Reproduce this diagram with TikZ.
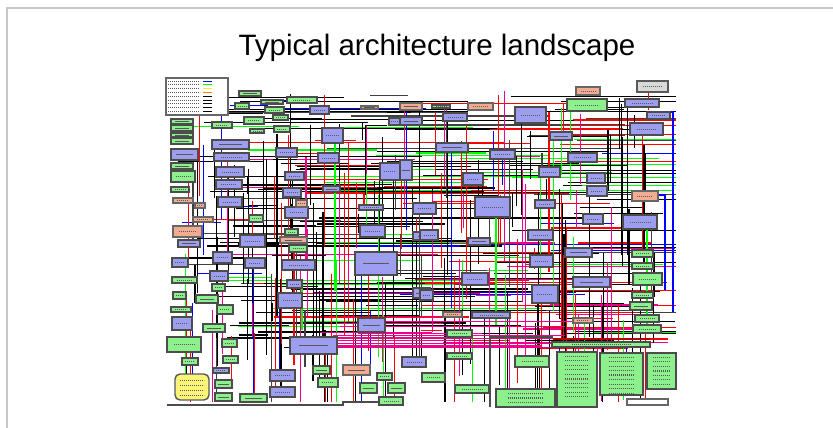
\documentclass[tikz,border=0pt]{standalone}
\usepackage{fontspec}
\setmainfont{Liberation Sans}
\usetikzlibrary{patterns,positioning}

\definecolor{boxblue}{RGB}{158,158,240}
\definecolor{boxgreen}{RGB}{140,240,140}
\definecolor{boxsalmon}{RGB}{242,172,145}
\definecolor{boxyellow}{RGB}{250,244,120}
\definecolor{framegray}{RGB}{200,200,200}

\begin{document}
\begin{tikzpicture}[x=1pt,y=-1pt]
    \tikzset{wire/.style = {line width=1.1pt}}
    \tikzset{bx_blue/.style = {draw=black!70,line width=1.4pt,fill=boxblue}}
    \tikzset{bx_green/.style = {draw=black!70,line width=1.4pt,fill=boxgreen}}
    \tikzset{bx_salmon/.style = {draw=black!60,line width=1.4pt,fill=boxsalmon}}
    \tikzset{scrib/.style = {black!65,line width=0.8pt,dash pattern=on 1.2pt off 0.8pt}}

    \useasboundingbox (0,0) rectangle (833,428);
    % slide frame
    \draw[framegray,line width=2.5pt] (7,428) -- (7,8) -- (833,8);
    \node[font=\fontsize{29.5}{32}\selectfont] (title) at (437,48) {Typical architecture landscape};

    % connectors of the landscape
    \pgfmathsetseed{2718}
    \pgfmathdeclarerandomlist{wirecol}{{black}{black}{black}{black!75}{black}{black}{red}{red}{green}{blue}{magenta}}
    \foreach \i in {1,...,240}{
        \pgfmathsetmacro{\wy}{95+255*rnd}
        \pgfmathsetmacro{\wx}{175+430*rnd}
        \pgfmathsetmacro{\wl}{min(\wx+20+250*rnd,676)}
        \pgfmathrandomitem{\wc}{wirecol}
        \draw[wire,color=\wc] (\wx,\wy) -- (\wl,\wy);
    }
    \foreach \i in {1,...,220}{
        \pgfmathsetmacro{\wx}{185+480*rnd}
        \pgfmathsetmacro{\wy}{90+255*rnd}
        \pgfmathsetmacro{\wl}{min(\wy+15+170*rnd,402)}
        \pgfmathrandomitem{\wc}{wirecol}
        \draw[wire,color=\wc] (\wx,\wy) -- (\wx,\wl);
    }
    \foreach \i in {1,...,16}{
        \pgfmathsetmacro{\wy}{314+38*rnd}
        \pgfmathsetmacro{\wx}{300+70*rnd}
        \pgfmathsetmacro{\wl}{430+150*rnd}
        \draw[wire,magenta] (\wx,\wy) -- (\wl,\wy);
    }
    \draw[wire,blue] (660,112) -- (673,112) -- (673,312);
    \draw[wire,blue] (650,195) -- (665,195) -- (665,290);
    \draw[red!70!black,line width=1.8pt] (553,339) -- (650,339);
    \draw[wire,red] (650,339) -- (668,339);
    \draw[black!70,line width=1.3pt] (167,405) -- (343,405) -- (343,402) -- (379,402);
    \draw[black!70,line width=1.3pt] (490,407) -- (490,337) -- (553,337);

    % boxes
    \foreach \xa/\ya/\xb/\yb in {
        212/140/249/149, 214/153/249/161, 216/167/244/177, 216/180/242/189, 218/197/242/207,
        171/149/198/160, 322/128/343/143, 318/153/339/163, 276/148/297/157, 285/172/304/180,
        283/188/301/197, 285/207/308/218, 310/106/329/114, 323/186/340/192, 380/163/400/180,
        389/118/400/125, 359/205/383/210, 360/225/385/237, 515/107/546/123, 400/117/422/125,
        443/113/467/121, 436/143/468/152, 490/150/515/159, 568/153/597/162, 550/132/572/140,
        539/167/560/177, 463/173/483/185, 400/160/412/180, 475/197/510/217, 535/200/555/208,
        587/173/605/183, 587/186/607/196, 583/214/603/224, 623/215/657/229, 630/123/663/135,
        625/99/659/107, 647/112/670/119, 413/203/436/214, 413/232/437/240, 528/230/553/240,
        240/235/265/247, 245/258/265/268, 282/260/315/270, 355/252/397/275, 413/288/430/298,
        278/293/302/308, 287/280/302/288, 358/318/385/332, 290/337/337/354, 402/357/426/367,
        270/370/295/381, 270/387/295/397, 172/317/192/330, 210/271/228/281, 213/252/232/263,
        178/240/200/247, 172/258/188/267, 213/368/229/373, 420/230/438/240, 468/238/490/245,
        462/273/488/285, 532/285/558/303, 530/255/553/267, 565/248/592/257, 573/277/610/287,
        420/290/433/300, 472/312/510/318}{
        \draw[bx_blue] (\xa,\ya) rectangle (\xb,\yb);
        \draw[scrib] ({\xa+0.2*(\xb-\xa)},{(\ya+\yb)/2}) -- ({\xb-0.2*(\xb-\xa)},{(\ya+\yb)/2});
    }
    \foreach \xa/\ya/\xb/\yb in {
        239/91/261/96, 261/100/283/104, 235/103/249/109, 265/107/284/113, 244/117/264/124,
        273/115/288/120, 274/126/290/132, 250/129/264/133, 171/119/193/124, 171/125/193/131,
        171/133/193/137, 171/138/193/144, 171/163/193/169, 171/171/195/182, 171/187/189/192,
        249/215/263/222, 285/229/298/235, 212/122/232/128, 287/97/317/103, 432/105/450/108,
        567/99/607/111, 172/277/197/283, 212/284/225/291, 173/292/186/299, 196/295/218/303,
        171/307/191/312, 217/305/233/314, 203/324/225/332, 167/337/201/352, 222/339/237/347,
        223/356/238/363, 182/358/198/365, 215/380/232/388, 215/393/232/401, 240/394/267/402,
        313/366/330/374, 318/378/338/387, 377/373/392/380, 360/383/377/393, 388/383/405/393,
        379/397/403/405, 289/245/307/252, 632/250/653/257, 632/263/653/269, 633/273/662/285,
        632/292/653/298, 630/302/652/310, 635/315/659/322, 633/325/661/333, 447/330/472/337,
        552/342/650/347, 557/352/597/407, 600/353/643/395, 647/353/676/389, 496/389/555/407,
        515/356/549/367, 447/353/472/359, 422/373/445/382, 455/385/489/393}{
        \draw[bx_green] (\xa,\ya) rectangle (\xb,\yb);
        \draw[scrib] ({\xa+0.2*(\xb-\xa)},{(\ya+\yb)/2}) -- ({\xb-0.2*(\xb-\xa)},{(\ya+\yb)/2});
    }
    \foreach \xa/\ya/\xb/\yb in {
        173/198/193/203, 173/226/202/237, 195/203/205/208, 361/106/378/109, 296/200/307/207,
        193/217/213/222, 576/87/600/95, 632/191/658/201, 400/103/422/110, 468/103/493/110,
        343/365/370/375, 280/237/307/243, 443/312/462/317, 573/318/593/323}{
        \draw[bx_salmon] (\xa,\ya) rectangle (\xb,\yb);
        \draw[scrib] ({\xa+0.2*(\xb-\xa)},{(\ya+\yb)/2}) -- ({\xb-0.2*(\xb-\xa)},{(\ya+\yb)/2});
    }
    % tall boxes get more rows of small print
    \foreach \xa/\ya/\xb/\yb in {557/352/597/407, 600/353/643/395, 647/353/676/389, 496/389/555/407}{
        \foreach \r in {0,...,9}{
            \pgfmathsetmacro{\ry}{\ya+4+4.5*\r}
            \ifdim\ry pt<\yb pt
                \draw[scrib] ({\xa+0.2*(\xb-\xa)},\ry) -- ({\xb-0.2*(\xb-\xa)},\ry);
            \fi
        }
    }
    % legend, page box, store
    \draw[draw=black!60,line width=1.3pt,fill=white] (166,78) rectangle (228,115);
    \foreach \r/\c in {0/blue,1/green,2/yellow,3/orange,4/black,5/black,6/black,7/black,8/black}{
        \draw[scrib] (168,{81+3.8*\r}) -- (200,{81+3.8*\r});
        \draw[line width=0.8pt,color=\c] (203,{81+3.8*\r}) -- (212,{81+3.8*\r});
    }
    \draw[draw=black!65,line width=1.3pt,fill=black!15] (637,81) rectangle (668,92);
    \draw[scrib] (643,86.5) -- (662,86.5);
    \draw[draw=black!60,line width=1.3pt,fill=white] (627,399) rectangle (668,405);
    \draw[draw=black!65,line width=1.4pt,fill=boxyellow,rounded corners=5pt] (175,374) rectangle (209,400);
    \foreach \r in {0,...,3}{
        \draw[scrib] (180,{380+5*\r}) -- (204,{380+5*\r});
    }
\end{tikzpicture}
\end{document}
